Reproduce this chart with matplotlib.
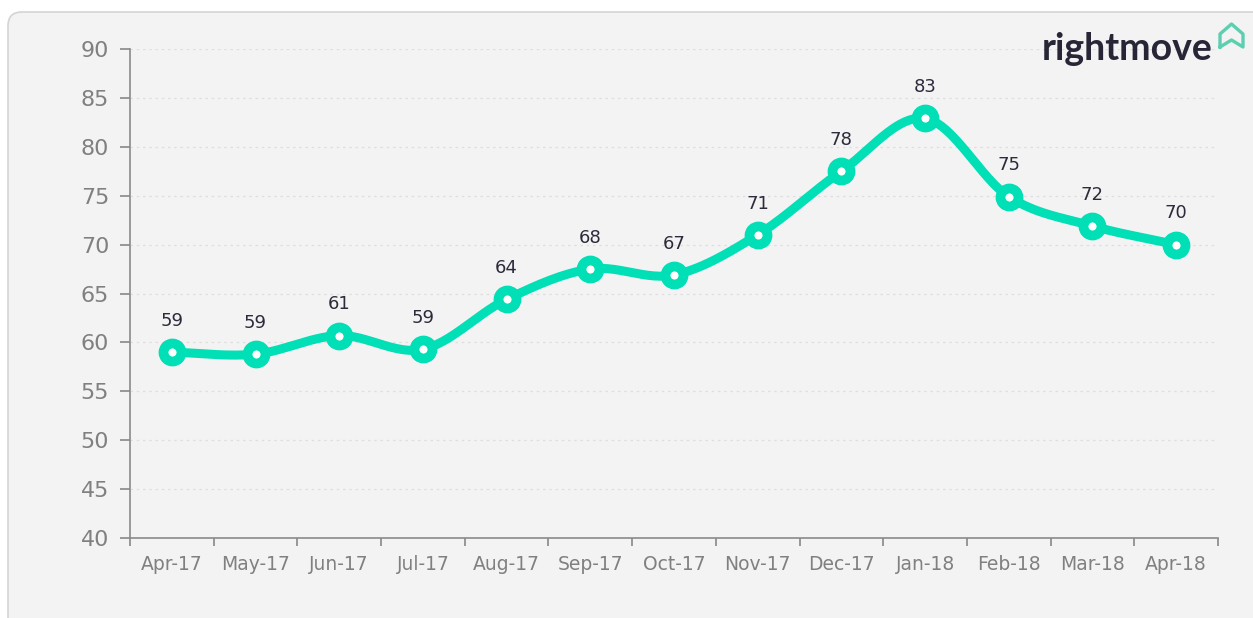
import numpy as np
import matplotlib.pyplot as plt
from matplotlib.patches import FancyBboxPatch
from matplotlib.lines import Line2D

meses = ['Apr-17', 'May-17', 'Jun-17', 'Jul-17', 'Aug-17', 'Sep-17', 'Oct-17',
         'Nov-17', 'Dec-17', 'Jan-18', 'Feb-18', 'Mar-18', 'Apr-18']
valores = [59.0, 58.8, 60.7, 59.3, 64.4, 67.5, 66.9, 71.0, 77.5, 82.9, 74.9, 71.9, 70.0]
etiquetas = ['59', '59', '61', '59', '64', '68', '67', '71', '78', '83', '75', '72', '70']
y_ticks = [40, 45, 50, 55, 60, 65, 70, 75, 80, 85, 90]

verde = '#00DFB5'
gris = '#808080'
texto = '#2b2b3b'


def suavizar(x, y, pasos=30):
    # catmull-rom para la curva suave entre puntos
    x = np.asarray(x, float)
    y = np.asarray(y, float)
    px = np.concatenate([[2 * x[0] - x[1]], x, [2 * x[-1] - x[-2]]])
    py = np.concatenate([[2 * y[0] - y[1]], y, [2 * y[-1] - y[-2]]])
    xs, ys = [], []
    t = np.linspace(0, 1, pasos)
    for i in range(1, len(px) - 2):
        for p, out in ((px, xs), (py, ys)):
            p0, p1, p2, p3 = p[i - 1], p[i], p[i + 1], p[i + 2]
            out.extend(0.5 * ((2 * p1) + (-p0 + p2) * t +
                              (2 * p0 - 5 * p1 + 4 * p2 - p3) * t ** 2 +
                              (-p0 + 3 * p1 - 3 * p2 + p3) * t ** 3))
    return np.array(xs), np.array(ys)


fig = plt.figure(figsize=(12.53, 6.18), dpi=100)
fig.patch.set_facecolor('white')

# panel de fondo con esquinas redondeadas
W, H = 1253, 618
panel = FancyBboxPatch((8 / W, -0.05), 1.1, (618 - 12) / H + 0.05,
                       boxstyle='round,pad=0,rounding_size=0.011',
                       mutation_aspect=W / H,
                       transform=fig.transFigure, facecolor='#f3f3f3',
                       edgecolor='#d4d4d4', linewidth=1.2, zorder=-5)
fig.patches.append(panel)

ax = fig.add_axes([130 / W, 1 - 538 / H, (1218 - 130) / W, (538 - 49) / H])
ax.set_facecolor('none')
ax.set_zorder(2)

x = np.arange(len(meses))
sx, sy = suavizar(x, valores)
ax.plot(sx, sy, color=verde, lw=6.5, solid_capstyle='round', zorder=3)
ax.plot(x, valores, 'o', ms=13, mew=7, mfc='white', mec=verde, zorder=4)

for xi, v, et in zip(x, valores, etiquetas):
    ax.annotate(et, (xi, v), xytext=(0, 16), textcoords='offset points',
                ha='center', va='bottom', fontsize=13, color=texto, zorder=5)

ax.set_xlim(-0.5, len(meses) - 0.5)
ax.set_ylim(40, 90)
ax.set_yticks(y_ticks)
ax.set_yticklabels([str(t) for t in y_ticks], fontsize=16, color=gris)
ax.set_xticks(x)
ax.set_xticklabels(meses, fontsize=13.5, color=gris)
ax.set_xticks(np.arange(-0.5, len(meses)), minor=True)
ax.tick_params(axis='x', which='major', length=0, pad=12)
ax.tick_params(axis='x', which='minor', length=6, color='#888888', width=1.2)
ax.tick_params(axis='y', length=7, color='#888888', width=1.2, pad=8)

for lado in ['top', 'right']:
    ax.spines[lado].set_visible(False)
for lado in ['left', 'bottom']:
    ax.spines[lado].set_color('#8a8a8a')
    ax.spines[lado].set_linewidth(1.2)

ax.yaxis.grid(True, linestyle=(0, (2, 3)), color='#dedede', linewidth=0.9)
ax.set_axisbelow(True)

# logo
fig.text(1212 / W, 1 - 60 / H, 'rightmove', ha='right', va='baseline',
         fontsize=27, fontweight='bold', family='Lato', color='#262637')
casa_x = np.array([1220, 1220, 1231.5, 1243, 1243, 1231.5, 1220])
casa_y = np.array([47, 34, 24, 34, 47, 40, 47])
fig.lines.append(Line2D(casa_x / W, 1 - casa_y / H, transform=fig.transFigure,
                        color='#5ccfb0', lw=2.4, solid_joinstyle='round'))

plt.savefig('out.png', dpi=100, facecolor=fig.get_facecolor())
